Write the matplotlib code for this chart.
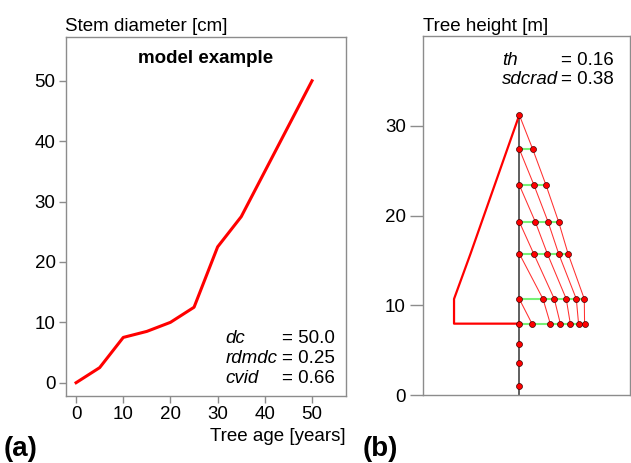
import numpy as np
import matplotlib
matplotlib.use("Agg")
import matplotlib.pyplot as plt

# ===== Data =====
# (a) stem diameter over tree age
age = [0, 5, 10, 15, 20, 25, 30, 35, 40, 45, 50]
diameter = [0, 2.5, 7.5, 8.5, 10, 12.5, 22.5, 27.5, 35, 42.5, 50]
params_a = ["dc", "rdmdc", "cvid"]
values_a = ["50.0", "0.25", "0.66"]

# (b) tree architecture: stem nodes and branch whorls
tree_top = 31.2
stem_nodes = [31.2, 27.4, 23.4, 19.3, 15.75, 10.7, 7.95, 5.65, 3.6, 1.04]
whorl_heights = [27.4, 23.4, 19.3, 15.75, 10.7, 7.95]
# branch tip distances from stem per whorl (m), innermost = youngest cohort
whorl_branches = [
    [1.49],
    [1.63, 2.97],
    [1.78, 3.20, 4.38],
    [1.60, 3.12, 4.38, 5.43],
    [2.64, 3.90, 5.23, 6.35, 7.24],
    [1.41, 3.45, 4.57, 5.68, 6.60, 7.27],
]
outline_x = [0, -5.43, -7.27, -7.27, 0]
outline_h = [31.2, 15.75, 10.7, 7.95, 7.95]
params_b = ["th", "sdcrad"]
values_b = ["0.16", "0.38"]

# ===== Style =====
plt.rcParams['font.family'] = ['Liberation Sans', 'DejaVu Sans']
plt.rcParams['font.size'] = 13.5
W, H = 631, 463
GREY = "#8c8c8c"

fig = plt.figure(figsize=(W / 100, H / 100), dpi=100)


def px_rect(x0, y0, x1, y1):
    return [x0 / W, 1 - y1 / H, (x1 - x0) / W, (y1 - y0) / H]


def style_box(ax, ticklen):
    for sp in ax.spines.values():
        sp.set_color(GREY)
        sp.set_linewidth(1.0)
    ax.tick_params(colors=GREY, labelcolor="black", length=ticklen,
                   width=1.0, pad=2.5, labelsize=13.5)


# ===== (a) Stem diameter =====
ax1 = fig.add_axes(px_rect(65.7, 37.3, 346, 396))
ax1.plot(age, diameter, color="red", lw=2.2, solid_joinstyle="round")
ax1.set_xlim(-2.2, 57.2)
ax1.set_ylim(-2.2, 57.2)
ax1.set_xticks(np.arange(0, 51, 10))
ax1.set_yticks(np.arange(0, 51, 10))
style_box(ax1, 4.8)
ax1.text(0.5, 0.94, "model example", transform=ax1.transAxes,
         ha="center", va="center", fontweight="bold")
for i, (p, v) in enumerate(zip(params_a, values_a)):
    y = 7.4 - i * 3.33
    ax1.text(31.6, y, p, style="italic", ha="left", va="center")
    ax1.text(43.6, y, "= " + v, ha="left", va="center")

# ===== (b) Tree height =====
ax2 = fig.add_axes(px_rect(422.7, 36, 630, 395))
ax2.set_xlim(-10.76, 12.33)
ax2.set_ylim(0, 40)

# stem
ax2.plot([0, 0], [0, tree_top], color="#444444", lw=1.2, zorder=2)
# crown outline (left side)
ax2.plot(outline_x, outline_h, color="red", lw=1.6, zorder=3)
# green whorl lines
for h, br in zip(whorl_heights, whorl_branches):
    ax2.plot([0, max(br)], [h, h], color="#77f077", lw=1.5, zorder=2)
# branch cohorts: each starts at the stem node and grows outward downwards
n = len(whorl_heights)
cohort_starts = [tree_top] + whorl_heights[:-1]
for c, h0 in enumerate(cohort_starts):
    xs, ys = [0], [h0]
    for k in range(c, n):
        br = whorl_branches[k]
        xs.append(br[k - c])
        ys.append(whorl_heights[k])
    ax2.plot(xs, ys, color="#ff3030", lw=0.75, zorder=3)
# points
for h, br in zip(whorl_heights, whorl_branches):
    ax2.plot(br, [h] * len(br), "o", color="red", mec="#400000", mew=0.5,
             ms=4.3, zorder=4)
ax2.plot([0] * len(stem_nodes), stem_nodes, "o", color="red", mec="#400000",
         mew=0.5, ms=4.3, zorder=4)

ax2.set_xticks([])
ax2.set_yticks(np.arange(0, 31, 10))
style_box(ax2, 9.6)
for i, (p, v) in enumerate(zip(params_b, values_b)):
    y = 37.3 - i * 2.2
    ax2.text(-1.95, y, p, style="italic", ha="left", va="center")
    ax2.text(4.6, y, "= " + v, ha="left", va="center")

# ===== Labels =====
fig.text(65 / W, 1 - 31 / H, "Stem diameter [cm]", ha="left", va="baseline")
fig.text(422.7 / W, 1 - 31 / H, "Tree height [m]", ha="left", va="baseline")
fig.text(346 / W, 1 - 441 / H, "Tree age [years]", ha="right", va="baseline")
fig.text(4 / W, 1 - 456 / H, "(a)", ha="left", va="baseline",
         fontweight="bold", fontsize=20)
fig.text(363 / W, 1 - 456 / H, "(b)", ha="left", va="baseline",
         fontweight="bold", fontsize=20)

fig.savefig("out.png", dpi=100)
